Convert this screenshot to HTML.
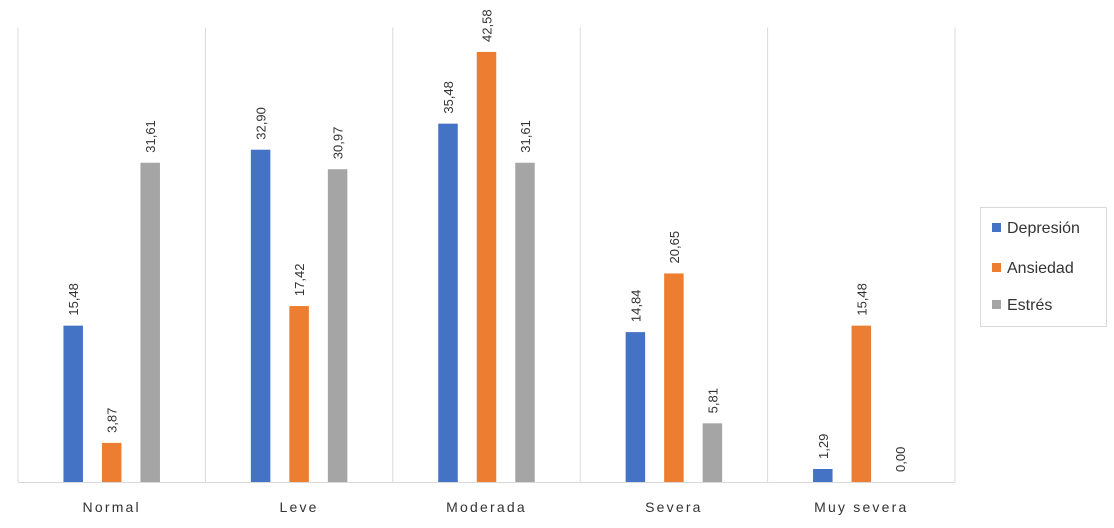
<!DOCTYPE html>
<html><head><meta charset="utf-8"><style>
body{margin:0;background:#fff;width:1114px;height:523px;overflow:hidden}
svg{font-family:"Liberation Sans",sans-serif}
</style></head><body>
<svg id="chart" width="1114" height="523" viewBox="0 0 1114 523">
<g id="grid"></g>
<g id="bars"></g>
<g id="labels"></g>
<g id="xaxis"></g>
<g>
<rect x="980.5" y="207.5" width="126" height="119" fill="#fff" stroke="#d9d9d9"/>
<rect x="992" y="223" width="9" height="9" fill="#4472c4"/>
<text x="1007" y="233" font-size="16" fill="#333">Depresión</text>
<rect x="992" y="263" width="9" height="9" fill="#ed7d31"/>
<text x="1007" y="273" font-size="16" fill="#333">Ansiedad</text>
<rect x="992" y="300" width="9" height="9" fill="#a5a5a5"/>
<text x="1007" y="310" font-size="16" fill="#333">Estrés</text>
</g>
</svg>
<script>
const categories=["Normal","Leve","Moderada","Severa","Muy severa"];
const depresion=[15.48,32.90,35.48,14.84,1.29];
const ansiedad=[3.87,17.42,42.58,20.65,15.48];
const estres=[31.61,30.97,31.61,5.81,0.00];
const seriesNames=["depresion","ansiedad","estres"];
const colors=["#4472c4","#ed7d31","#a5a5a5"];
const NS="http://www.w3.org/2000/svg";
const left=18,right=955,base=482,top0=27.5,yMax=45;
const cw=(right-left)/categories.length;
function y(v){return base-(v/yMax)*(base-top0);}
function xc(i){return left+cw*(i+0.5);}
function mk(t,a,p){const e=document.createElementNS(NS,t);for(const k in a)e.setAttribute(k,a[k]);p.appendChild(e);return e;}
const grid=document.getElementById("grid"),bars=document.getElementById("bars"),labels=document.getElementById("labels"),xaxis=document.getElementById("xaxis");
for(let i=0;i<=categories.length;i++){
  const gl=mk("line",{x1:left+cw*i,x2:left+cw*i,y1:top0,y2:base,stroke:"#d9d9d9","stroke-width":1},grid);
  
  
}
const ax=mk("line",{x1:left,x2:right,y1:base+0.5,y2:base+0.5,stroke:"#d9d9d9","stroke-width":1},xaxis);


const data=[depresion,ansiedad,estres];
const bw=19.5;
categories.forEach((c,i)=>{
  data.forEach((s,j)=>{
    const cx=xc(i)+(j-1)*38.5;
    const r=mk("rect",{x:cx-bw/2,y:y(s[j===0?i:i]),width:bw,height:base-y(s[i]),fill:colors[j]},bars);
    
    
    const ly=y(s[i])-10;
    const t=mk("text",{x:cx+5,y:ly,"font-size":13,fill:"#333",transform:`rotate(-90 ${cx+5} ${ly})`},labels);
    t.textContent=s[i].toFixed(2).replace(".",",");
    
    
  });
  const tl=mk("text",{x:xc(i),y:512,"font-size":14,fill:"#333","text-anchor":"middle","letter-spacing":"2.2"},xaxis);
  tl.textContent=c;
  
  
});
</script>
</body></html>
